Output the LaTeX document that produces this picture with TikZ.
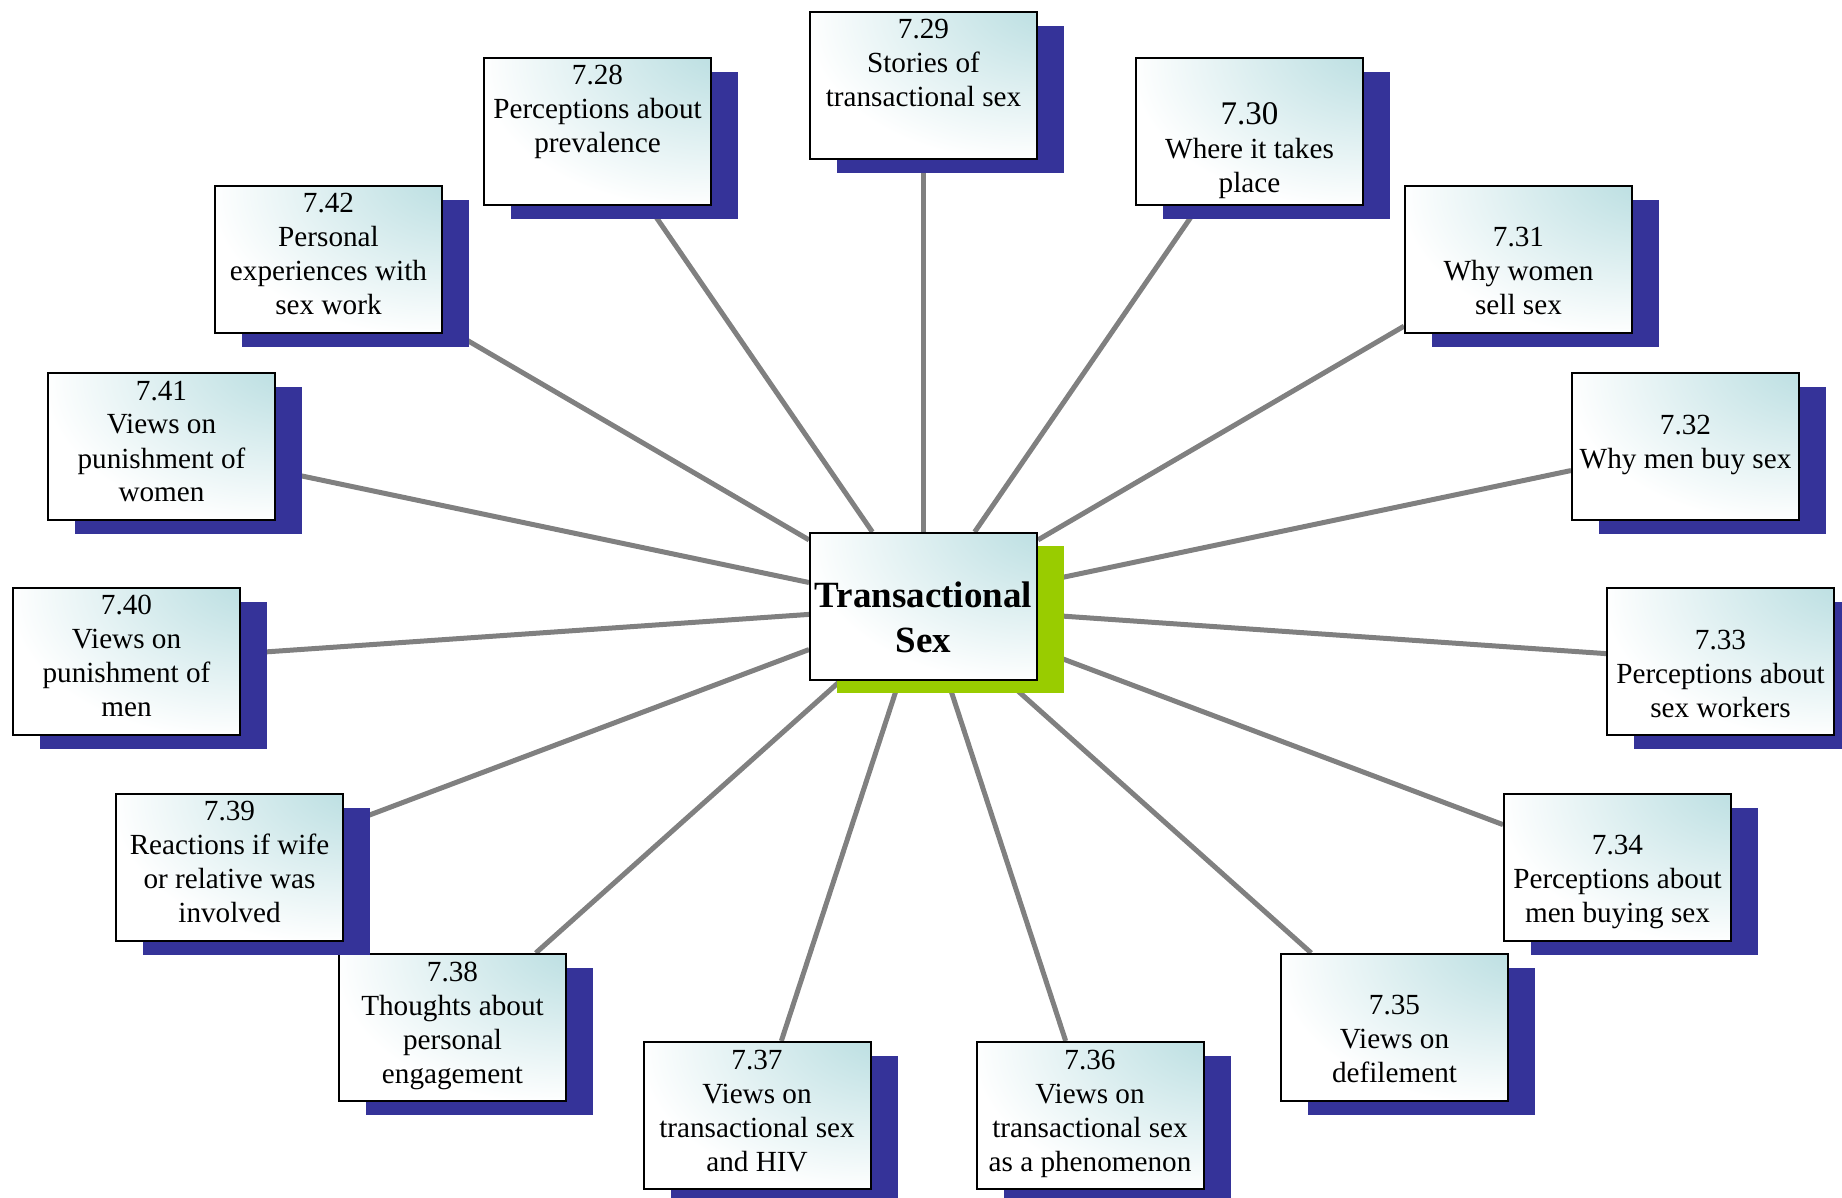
\documentclass[tikz,border=0pt]{standalone}
\usepackage{fontspec}
\setmainfont{Liberation Serif}
\usetikzlibrary{shadows}
\definecolor{shadowblue}{RGB}{53,51,153}
\definecolor{hubgreen}{RGB}{153,204,0}
\definecolor{tealc}{RGB}{186,222,225}
\definecolor{linkgray}{RGB}{128,128,128}
\pgfdeclareradialshading{tealglow}{\pgfpoint{35bp}{35bp}}{color(0bp)=(tealc); color(8bp)=(tealc); color(48bp)=(white); color(130bp)=(white)}
\pgfdeclarelayer{bg}
\pgfsetlayers{bg,main}
\setlength{\tabcolsep}{0pt}
\newcommand{\mlines}[1]{\begin{tabular}[t]{@{}c@{}}#1\end{tabular}}
\begin{document}
\begin{tikzpicture}[x=0.5pt,y=-0.5pt,
  boxbase/.style={rectangle, draw=black, line width=1pt, minimum width=113.5pt, minimum height=73.5pt, inner sep=0pt, shade, shading=tealglow},
  topic/.style={boxbase, general shadow={fill=shadowblue, shadow xshift=13.5pt, shadow yshift=-7pt}},
  hub/.style={boxbase, general shadow={fill=hubgreen, shadow xshift=13.5pt, shadow yshift=-6.5pt}},
  lbl/.style={inner sep=0pt, anchor=base, font=\fontsize{14.6}{17}\selectfont},
  hublbl/.style={inner sep=0pt, anchor=base, font=\fontsize{18.5}{22.5}\selectfont\bfseries},
  link/.style={draw=linkgray, line width=2.5pt}]
\useasboundingbox (0,0) rectangle (1842,1198);
\clip (0,0) rectangle (1842,1198);

\node[hub] (hub) at (923.5,606.5) {};
\node[topic] (t28) at (597.5,131.5) {};
\node[topic] (t29) at (923.5,85.5) {};
\node[topic] (t30) at (1249.5,131.5) {};
\node[topic] (t31) at (1518.5,259.5) {};
\node[topic] (t32) at (1685.5,446.5) {};
\node[topic] (t33) at (1720.5,661.5) {};
\node[topic] (t34) at (1617.5,867.5) {};
\node[topic] (t35) at (1394.5,1027.5) {};
\node[topic] (t36) at (1090,1115.5) {};
\node[topic] (t37) at (757,1115.5) {};
\node[topic] (t38) at (452.5,1027.5) {};
\node[topic] (t39) at (229.5,867.5) {};
\node[topic] (t40) at (126.5,661.5) {};
\node[topic] (t41) at (161.5,446.5) {};
\node[topic] (t42) at (328.5,259.5) {};

\begin{pgfonlayer}{bg}
\foreach \t in {t28,t29,t30,t31,t32,t33,t34,t35,t36,t37,t38,t39,t40,t41,t42}
  \draw[link] (hub) -- (\t);
\end{pgfonlayer}

\node[hublbl] (lhub) at ([yshift=-37.5pt]hub.north) {\mlines{Transactional\\Sex}};
\node[lbl] (l28) at ([yshift=-14pt]t28.north) {\mlines{7.28\\Perceptions about\\prevalence}};
\node[lbl] (l29) at ([yshift=-14pt]t29.north) {\mlines{7.29\\Stories of\\transactional sex}};
\node[lbl] (l30) at ([yshift=-34pt]t30.north) {\mlines{{\fontsize{16.5}{17}\selectfont 7.30}\\Where it takes\\place}};
\node[lbl] (l31) at ([yshift=-31pt]t31.north) {\mlines{7.31\\Why women\\sell sex}};
\node[lbl] (l32) at ([yshift=-31pt]t32.north) {\mlines{7.32\\Why men buy sex}};
\node[lbl] (l33) at ([yshift=-31pt]t33.north) {\mlines{7.33\\Perceptions about\\sex workers}};
\node[lbl] (l34) at ([yshift=-30.5pt]t34.north) {\mlines{7.34\\Perceptions about\\men buying sex}};
\node[lbl] (l35) at ([yshift=-30.5pt]t35.north) {\mlines{7.35\\Views on\\defilement}};
\node[lbl] (l36) at ([yshift=-14pt]t36.north) {\mlines{7.36\\Views on\\transactional sex\\as a phenomenon}};
\node[lbl] (l37) at ([yshift=-14pt]t37.north) {\mlines{7.37\\Views on\\transactional sex\\and HIV}};
\node[lbl] (l38) at ([yshift=-14pt]t38.north) {\mlines{7.38\\Thoughts about\\personal\\engagement}};
\node[lbl] (l39) at ([yshift=-13.5pt]t39.north) {\mlines{7.39\\Reactions if wife\\or relative was\\involved}};
\node[lbl] (l40) at ([yshift=-13.5pt]t40.north) {\mlines{7.40\\Views on\\punishment of\\men}};
\node[lbl] (l41) at ([yshift=-14pt]t41.north) {\mlines{7.41\\Views on\\punishment of\\women}};
\node[lbl] (l42) at ([yshift=-14pt]t42.north) {\mlines{7.42\\Personal\\experiences with\\sex work}};
\end{tikzpicture}
\end{document}
